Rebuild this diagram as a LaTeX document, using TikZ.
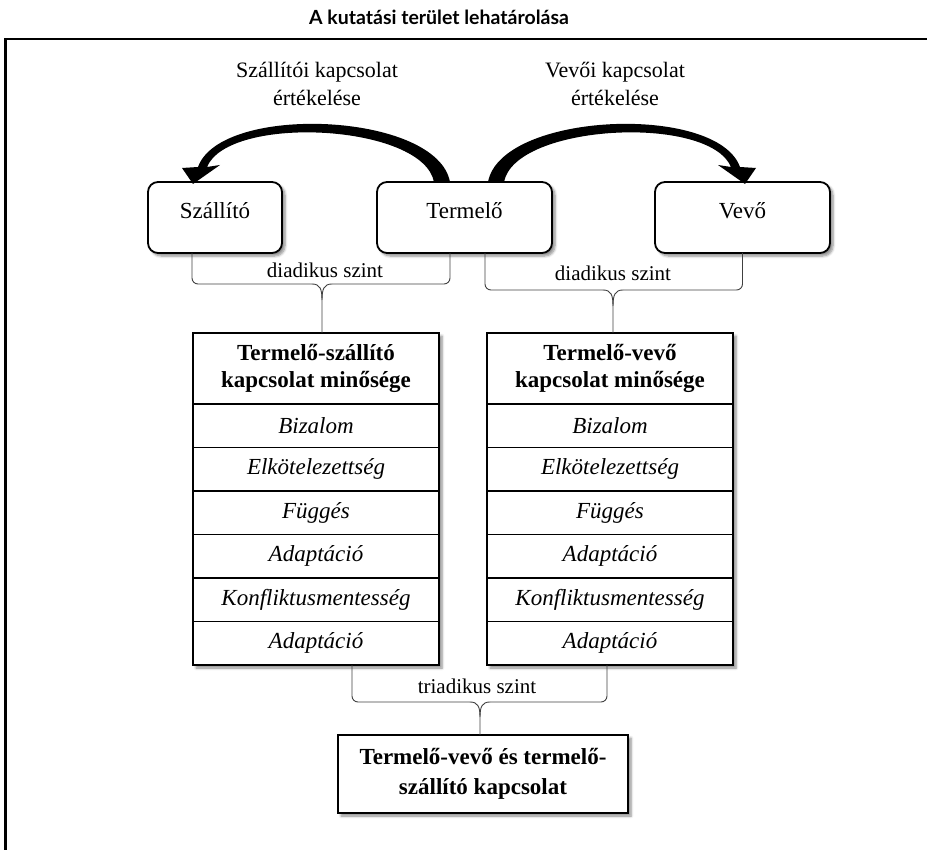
\documentclass[tikz,border=0pt]{standalone}
\usepackage{fontspec}
\setmainfont{Liberation Serif}
\newfontfamily\titlefont{Lato}
\usetikzlibrary{shadows.blur}

\begin{document}
\begin{tikzpicture}[x=1pt,y=-1pt,
  every node/.style={inner sep=0pt, outer sep=0pt},
  softshadow/.style={blur shadow={shadow xshift=3pt, shadow yshift=-3pt,
      shadow blur steps=6, shadow blur radius=2.5pt, shadow opacity=45}},
  party/.style={draw, line width=1.8pt, rounded corners=10pt, fill=white,
      minimum height=71pt, text height=16pt, text depth=14pt,
      font=\fontsize{23}{28}\selectfont, softshadow},
  headcell/.style={draw, line width=2.6pt, fill=white, minimum width=246pt,
      minimum height=71pt, align=center,
      font=\bfseries\fontsize{23}{27.5}\selectfont},
  cell/.style={draw, line width=1.6pt, fill=white, minimum width=246pt,
      minimum height=43.5pt, font=\itshape\fontsize{23}{28}\selectfont},
  resultbox/.style={draw, line width=2.6pt, fill=white, minimum width=290pt,
      minimum height=78pt, align=center,
      font=\bfseries\fontsize{23}{30}\selectfont, softshadow},
  evallabel/.style={align=center, font=\fontsize{22}{28}\selectfont},
  levellabel/.style={font=\fontsize{21}{24}\selectfont},
  bracestyle/.style={draw=black!75, line width=0.9pt},
  bigarrow/.style={fill=black}
]
\useasboundingbox (0,0) rectangle (927,850);

% heading and frame
\node[font=\titlefont\bfseries\fontsize{19.5}{22}\selectfont] (title) at (439,17)
  {A kutatási terület lehatárolása};
\draw[line width=2.4pt] (5.5,850) -- (5.5,39) -- (927,39);

% the three parties
\node[party, minimum width=134pt] (szallito) at (215,217.5) {Szállító};
\node[party, minimum width=175pt] (termelo) at (464.5,217.5) {Termelő};
\node[party, minimum width=175pt] (vevo) at (742.5,217.5) {Vevő};

% evaluation arrows (tapered)
\fill[bigarrow] (434,182) -- (450,182)
  .. controls (437,112) and (221,103) .. (198,167)
  -- (182,168) -- (193,184) -- (220,165) -- (207,167)
  .. controls (229,114) and (423,124) .. (434,182) -- cycle;
\begin{scope}[shift={(938,0)}, xscale=-1]
\fill[bigarrow] (434,182) -- (450,182)
  .. controls (437,112) and (221,103) .. (198,167)
  -- (182,168) -- (193,184) -- (220,165) -- (207,167)
  .. controls (229,114) and (423,124) .. (434,182) -- cycle;
\end{scope}
\node[evallabel] (evalsz) at (317,84) {Szállítói kapcsolat\\értékelése};
\node[evallabel] (evalve) at (615,84) {Vevői kapcsolat\\értékelése};

% left quality table
\path[fill=white, softshadow] (193,333) rectangle (439,665);
\node[headcell] (ts) at (316,368.5) {Termelő-szállító\\kapcsolat minősége};
\node[cell] (ts1) at (316,425.75) {Bizalom};
\node[cell] (ts2) at (316,469.25) {Elkötelezettség};
\node[cell] (ts3) at (316,512.75) {Függés};
\node[cell] (ts4) at (316,556.25) {Adaptáció};
\node[cell] (ts5) at (316,599.75) {Konfliktusmentesség};
\node[cell] (ts6) at (316,643.25) {Adaptáció};
\draw[line width=2.6pt] (ts.north west) rectangle (ts6.south east);
\draw[line width=2.6pt] (ts.north west) rectangle (ts.south east);

% right quality table
\path[fill=white, softshadow] (487,333) rectangle (733,665);
\node[headcell] (tv) at (610,368.5) {Termelő-vevő\\kapcsolat minősége};
\node[cell] (tv1) at (610,425.75) {Bizalom};
\node[cell] (tv2) at (610,469.25) {Elkötelezettség};
\node[cell] (tv3) at (610,512.75) {Függés};
\node[cell] (tv4) at (610,556.25) {Adaptáció};
\node[cell] (tv5) at (610,599.75) {Konfliktusmentesség};
\node[cell] (tv6) at (610,643.25) {Adaptáció};
\draw[line width=2.6pt] (tv.north west) rectangle (tv6.south east);
\draw[line width=2.6pt] (tv.north west) rectangle (tv.south east);

% combined relationship
\node[resultbox] (both) at (483,774) {Termelő-vevő és termelő-\\szállító kapcsolat};

% dyadic brace: supplier side
\coordinate (b1l) at ([xshift=-23pt]szallito.south);
\coordinate (b1r) at ([xshift=-14.5pt]termelo.south);
\draw[bracestyle, rounded corners=6pt] (b1l) -- ++(0,31) -- (312,284);
\draw[bracestyle, rounded corners=6pt] (b1r) -- ++(0,31) -- (332,284);
\draw[bracestyle] (312,284) .. controls (320,284) and (322,289) .. (322,300);
\draw[bracestyle] (332,284) .. controls (324,284) and (322,289) .. (322,300) -- (322,333);
\node[levellabel] (dy1) at (325,270) {diadikus szint};

% dyadic brace: customer side
\coordinate (b2l) at ([xshift=20.5pt]termelo.south);
\coordinate (b2r) at (vevo.south);
\draw[bracestyle, rounded corners=6pt] (b2l) -- ++(0,37) -- (603,290);
\draw[bracestyle, rounded corners=6pt] (b2r) -- ++(0,37) -- (623,290);
\draw[bracestyle] (603,290) .. controls (611,290) and (613,295) .. (613,306);
\draw[bracestyle] (623,290) .. controls (615,290) and (613,295) .. (613,306) -- (613,333);
\node[levellabel] (dy2) at (613,273) {diadikus szint};

% triadic brace
\coordinate (b3l) at ([xshift=36pt]ts6.south);
\coordinate (b3r) at ([xshift=-3pt]tv6.south);
\draw[bracestyle, rounded corners=6pt] (b3l) -- ++(0,37) -- (470,702);
\draw[bracestyle, rounded corners=6pt] (b3r) -- ++(0,37) -- (490,702);
\draw[bracestyle] (470,702) .. controls (478,702) and (480,707) .. (480,717);
\draw[bracestyle] (490,702) .. controls (482,702) and (480,707) .. (480,717) -- (480,735);
\node[levellabel] (tri) at (477,686) {triadikus szint};
\end{tikzpicture}
\end{document}
